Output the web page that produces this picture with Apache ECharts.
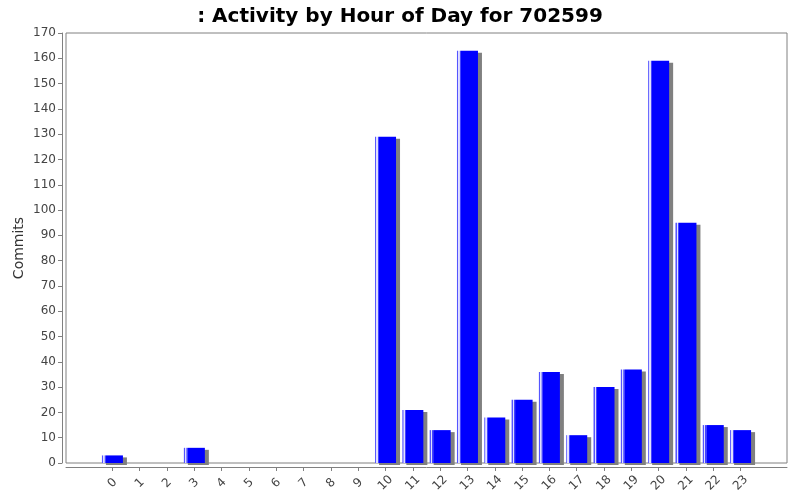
<!DOCTYPE html>
<html>
<head>
<meta charset="utf-8">
<script src="https://cdn.jsdelivr.net/npm/echarts@6/dist/echarts.min.js"></script>
<style>
  html, body { margin: 0; padding: 0; background: #fff; }
  #chart { width: 800px; height: 500px; }
</style>
</head>
<body>
<div id="chart"></div>
<script>
  // hours of the day and commit counts
  var hours = [0, 1, 2, 3, 4, 5, 6, 7, 8, 9, 10, 11, 12, 13, 14, 15, 16, 17, 18, 19, 20, 21, 22, 23];
  var commits = [3, 0, 0, 6, 0, 0, 0, 0, 0, 0, 129, 21, 13, 163, 18, 25, 36, 11, 30, 37, 159, 95, 15, 13];
  var yTicks = [0, 10, 20, 30, 40, 50, 60, 70, 80, 90, 100, 110, 120, 130, 140, 150, 160, 170];

  var myChart = echarts.init(document.getElementById('chart'), null, { renderer: 'canvas' });

  var barFill = new echarts.graphic.LinearGradient(0, 0, 1, 0, [
    { offset: 0, color: '#5555ff' },
    { offset: 0.05, color: '#5555ff' },
    { offset: 0.06, color: '#e0e0ff' },
    { offset: 0.12, color: '#e0e0ff' },
    { offset: 0.13, color: '#4444ff' },
    { offset: 0.18, color: '#4444ff' },
    { offset: 0.19, color: '#0000ff' },
    { offset: 1, color: '#0000ff' }
  ]);

  var option = {
    animation: false,
    backgroundColor: '#ffffff',
    title: {
      text: ': Activity by Hour of Day for 702599',
      left: 'center',
      top: 2,
      textStyle: { fontFamily: 'DejaVu Sans', fontSize: 20, fontWeight: 'bold', color: '#000' }
    },
    grid: {
      left: 66, right: 13, top: 33, bottom: 37,
      show: true, borderColor: '#808080', borderWidth: 1, backgroundColor: '#fff'
    },
    xAxis: {
      type: 'value',
      min: -1.7,
      max: 24.7,
      offset: 4,
      splitLine: { show: false },
      axisLine: { show: true, onZero: false, lineStyle: { color: '#808080' } },
      axisTick: { show: true, length: 4, customValues: hours, lineStyle: { color: '#808080' } },
      axisLabel: {
        customValues: hours,
        rotate: 45,
        align: 'center',
        verticalAlign: 'middle',
        margin: 16,
        color: '#444',
        fontFamily: 'DejaVu Sans',
        fontSize: 12
      }
    },
    yAxis: {
      type: 'value',
      min: 0,
      max: 170,
      interval: 10,
      offset: 4,
      name: 'Commits',
      nameLocation: 'middle',
      nameGap: 36,
      nameMoveOverlap: false,
      nameTextStyle: { fontFamily: 'DejaVu Sans', fontSize: 14, color: '#333' },
      splitLine: { show: false },
      axisLine: { show: true, onZero: false, lineStyle: { color: '#808080' } },
      axisTick: { show: true, length: 4, lineStyle: { color: '#808080' } },
      axisLabel: {
        margin: 6,
        color: '#444',
        fontFamily: 'DejaVu Sans',
        fontSize: 12,
        customValues: yTicks
      }
    },
    series: [{
      type: 'bar',
      barWidth: 21,
      data: hours.map(function (h, i) { return [h, commits[i]]; }),
      itemStyle: {
        color: barFill,
        shadowColor: '#808080',
        shadowBlur: 0,
        shadowOffsetX: 4,
        shadowOffsetY: 2
      }
    }]
  };

  myChart.setOption(option);
</script>
</body>
</html>
